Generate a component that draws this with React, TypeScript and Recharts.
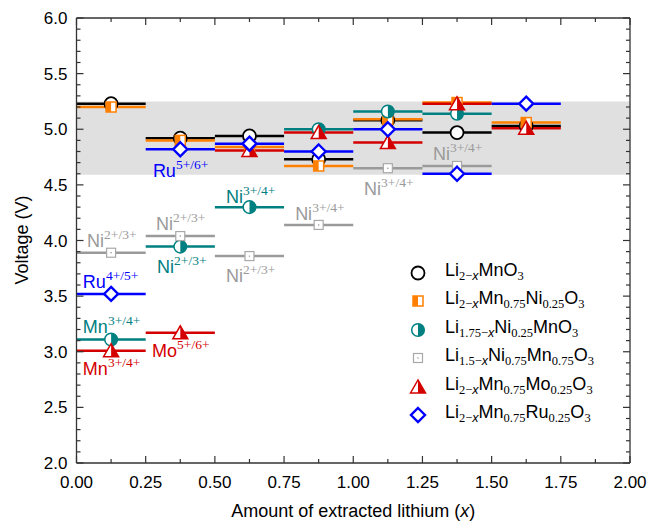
import React from 'react'
import { ComposedChart, Line, Scatter, XAxis, YAxis, ReferenceArea, ReferenceLine } from 'recharts'

// axis ticks (labelled ones + minor ones in between)
const X_TICKS = [0, 0.25, 0.5, 0.75, 1, 1.25, 1.5, 1.75, 2]
const X_MINOR = [0.125, 0.375, 0.625, 0.875, 1.125, 1.375, 1.625, 1.875]
const Y_TICKS = [2, 2.5, 3, 3.5, 4, 4.5, 5, 5.5, 6]
const Y_MINOR = Array.from({ length: 39 }, (_, i) => +(2.1 + i * 0.1).toFixed(1)).filter(
  (v) => !Y_TICKS.includes(v)
)

// each plateau spans 0.25 Li
const SEG_START = [0, 0.25, 0.5, 0.75, 1, 1.25, 1.5]
const SEG_WIDTH = 0.25

// plateau voltages (V)
const LI2MNO3 = [5.23, 4.92, 4.94, 4.73, 5.08, 4.97, 5.03]
const LI2MNNI = [5.2, 4.9, 4.84, 4.67, 5.09, 5.24, 5.06]
const LI175NI = [3.11, 3.945, 4.3, 5.0, 5.16, 5.14]
const LI15NIMN = [3.89, 4.04, 3.86, 4.14, 4.65, 4.67]
const LI2MNMO = [3.01, 3.17, 4.81, 4.97, 4.88, 5.23, 5.01]
const LI2MNRU = [3.52, 4.82, 4.87, 4.8, 5.0, 4.6, 5.23]

const BAND = [4.59, 5.25]

// redox annotations: [base, superscript, x, V, colour key]
const LABELS: [string, string, number, number, string][] = [
  ['Ru', '5+/6+', 0.276, 4.571, 'blue'],
  ['Ni', '3+/4+', 1.288, 4.724, 'gray'],
  ['Ni', '3+/4+', 1.039, 4.409, 'gray'],
  ['Ni', '2+/3+', 0.038, 3.942, 'gray'],
  ['Ni', '2+/3+', 0.287, 4.094, 'gray'],
  ['Ni', '2+/3+', 0.291, 3.708, 'teal'],
  ['Ni', '3+/4+', 0.54, 4.337, 'teal'],
  ['Ni', '2+/3+', 0.54, 3.627, 'gray'],
  ['Ni', '3+/4+', 0.79, 4.184, 'gray'],
  ['Ru', '4+/5+', 0.023, 3.573, 'blue'],
  ['Mn', '3+/4+', 0.023, 3.169, 'teal'],
  ['Mn', '3+/4+', 0.023, 2.791, 'red'],
  ['Mo', '5+/6+', 0.273, 2.953, 'red'],
]

const C = {
  black: '#000000',
  orange: '#ff8000',
  teal: '#008080',
  gray: '#9a9a9a',
  red: '#d40000',
  blue: '#0000ff',
}

const SANS = '"Liberation Sans", Arial, sans-serif'
const SERIF = '"Liberation Serif", "Times New Roman", serif'
const AXIS = '#333'

// plot frame, from the chart margins / axis sizes below
const W = 649
const H = 525
const M_TOP = 18
const M_RIGHT = 19
const Y_AXIS_W = 76.5
const X_AXIS_H = 62
const PLOT_TOP = M_TOP
const PLOT_BOTTOM = H - X_AXIS_H
const PLOT_LEFT = Y_AXIS_W
const PLOT_RIGHT = W - M_RIGHT

type P = { cx: number; cy: number }

const CircleMark = ({ cx, cy }: P) => (
  <circle cx={cx} cy={cy} r={6.5} fill="#fff" stroke={C.black} strokeWidth={1.8} />
)
const HalfSquareMark = ({ cx, cy }: P) => (
  <g>
    <rect x={cx - 5} y={cy - 5} width={10} height={10} fill="#fff" stroke={C.orange} strokeWidth={1.5} />
    <rect x={cx - 5} y={cy - 5} width={5} height={10} fill={C.orange} />
  </g>
)
const HalfCircleMark = ({ cx, cy }: P) => (
  <g>
    <circle cx={cx} cy={cy} r={6.3} fill="#fff" stroke={C.teal} strokeWidth={1.5} />
    <path d={`M${cx},${cy - 6.3} A6.3,6.3 0 0 1 ${cx},${cy + 6.3} Z`} fill={C.teal} />
  </g>
)
const SmallSquareMark = ({ cx, cy }: P) => (
  <g>
    <rect x={cx - 4.5} y={cy - 4.5} width={9} height={9} fill="#fff" stroke="#a8a8a8" strokeWidth={1.2} />
    <circle cx={cx} cy={cy} r={0.7} fill="#888" />
  </g>
)
const HalfTriangleMark = ({ cx, cy }: P) => (
  <g>
    <polygon
      points={`${cx - 7.5},${cy + 6} ${cx},${cy - 7} ${cx + 7.5},${cy + 6}`}
      fill="#fff"
      stroke={C.red}
      strokeWidth={1.5}
    />
    <polygon points={`${cx},${cy - 7} ${cx + 7.5},${cy + 6} ${cx},${cy + 6}`} fill={C.red} />
  </g>
)
const DiamondMark = ({ cx, cy }: P) => (
  <polygon
    points={`${cx},${cy - 7} ${cx + 7},${cy} ${cx},${cy + 7} ${cx - 7},${cy}`}
    fill="#fff"
    stroke={C.blue}
    strokeWidth={2.4}
  />
)

const SERIES = [
  { name: [['Li', '2−x'], ['MnO', '3']], values: LI2MNO3, color: C.black, Mark: CircleMark },
  { name: [['Li', '2−x'], ['Mn', '0.75'], ['Ni', '0.25'], ['O', '3']], values: LI2MNNI, color: C.orange, Mark: HalfSquareMark },
  { name: [['Li', '1.75−x'], ['Ni', '0.25'], ['MnO', '3']], values: LI175NI, color: C.teal, Mark: HalfCircleMark },
  { name: [['Li', '1.5−x'], ['Ni', '0.75'], ['Mn', '0.75'], ['O', '3']], values: LI15NIMN, color: C.gray, Mark: SmallSquareMark },
  { name: [['Li', '2−x'], ['Mn', '0.75'], ['Mo', '0.25'], ['O', '3']], values: LI2MNMO, color: C.red, Mark: HalfTriangleMark },
  { name: [['Li', '2−x'], ['Mn', '0.75'], ['Ru', '0.25'], ['O', '3']], values: LI2MNRU, color: C.blue, Mark: DiamondMark },
]

function segments(values: number[]) {
  const out: { x: number; v: number | null }[] = []
  values.forEach((v, i) => {
    out.push({ x: SEG_START[i], v })
    out.push({ x: SEG_START[i] + SEG_WIDTH, v })
    out.push({ x: SEG_START[i] + SEG_WIDTH, v: null })
  })
  return out
}

function midpoints(values: number[]) {
  return values.map((v, i) => ({ x: SEG_START[i] + SEG_WIDTH / 2, v }))
}

const labelData = LABELS.map(([base, sup, x, v, col]) => ({ x, v, base, sup, col }))

function LabelShape(props: any) {
  const { cx, cy, payload } = props
  const fill = (C as any)[payload.col]
  return (
    <text x={cx} y={cy} fill={fill} fontFamily={SANS} fontSize={18}>
      {payload.base}
      <tspan dy={-8} fontSize={13.5} fontFamily={SERIF}>
        {payload.sup}
      </tspan>
    </text>
  )
}

// x ticks: label + inward tick marks on bottom and top edges
function XTick(props: any) {
  const { x, y, payload } = props
  const major = X_TICKS.includes(payload.value)
  const len = major ? 7 : 4
  return (
    <g>
      <line x1={x} x2={x} y1={PLOT_BOTTOM} y2={PLOT_BOTTOM - len} stroke={AXIS} strokeWidth={1.2} />
      <line x1={x} x2={x} y1={PLOT_TOP} y2={PLOT_TOP + len} stroke={AXIS} strokeWidth={1.2} />
      {major && (
        <text x={x} y={y} dy="0.71em" textAnchor="middle" fontSize={17} fill="#000" fontFamily={SANS}>
          {payload.value.toFixed(2)}
        </text>
      )}
    </g>
  )
}

// y ticks: label + inward tick marks on left and right edges
function YTick(props: any) {
  const { x, y, payload } = props
  const major = Y_TICKS.includes(payload.value)
  const len = major ? 7 : 4
  return (
    <g>
      <line x1={PLOT_LEFT} x2={PLOT_LEFT + len} y1={y} y2={y} stroke={AXIS} strokeWidth={1.2} />
      <line x1={PLOT_RIGHT} x2={PLOT_RIGHT - len} y1={y} y2={y} stroke={AXIS} strokeWidth={1.2} />
      {major && (
        <text x={x} y={y} dy="0.36em" textAnchor="end" fontSize={17} fill="#000" fontFamily={SANS}>
          {payload.value.toFixed(1)}
        </text>
      )}
    </g>
  )
}

function Sub({ s }: { s: string }) {
  const parts = s.split('x')
  return (
    <span style={{ fontSize: 12.5, fontFamily: SERIF, verticalAlign: '-4px' }}>
      {parts[0]}
      {parts.length > 1 && <i style={{ fontFamily: SANS }}>x</i>}
    </span>
  )
}

const X_ALL = [...X_TICKS, ...X_MINOR].sort((a, b) => a - b)
const Y_ALL = [...Y_TICKS, ...Y_MINOR].sort((a, b) => a - b)

export default function App() {
  return (
    <div style={{ position: 'absolute', left: 0, top: 0, width: W, height: H, background: '#fff' }}>
      <ComposedChart width={W} height={H} margin={{ top: M_TOP, right: M_RIGHT, bottom: 0, left: 0 }}>
        <ReferenceArea xAxisId="b" yAxisId="l" y1={BAND[0]} y2={BAND[1]} fill="#e0e0e0" fillOpacity={1} stroke="none" />

        <XAxis
          xAxisId="b"
          dataKey="x"
          type="number"
          domain={[0, 2]}
          allowDataOverflow
          ticks={X_ALL}
          interval={0}
          height={X_AXIS_H}
          tickLine={false}
          tickSize={0}
          tickMargin={13}
          stroke={AXIS}
          strokeWidth={1.3}
          tick={<XTick />}
        />
        <YAxis
          yAxisId="l"
          dataKey="v"
          type="number"
          domain={[2, 6]}
          allowDataOverflow
          ticks={Y_ALL}
          interval={0}
          width={Y_AXIS_W}
          tickLine={false}
          tickSize={0}
          tickMargin={9}
          stroke={AXIS}
          strokeWidth={1.3}
          tick={<YTick />}
        />
        <ReferenceLine xAxisId="b" yAxisId="l" y={6} stroke={AXIS} strokeWidth={1.3} />
        <ReferenceLine xAxisId="b" yAxisId="l" x={2} stroke={AXIS} strokeWidth={1.3} />

        {SERIES.map((s, i) => (
          <Line
            key={`line-${i}`}
            xAxisId="b"
            yAxisId="l"
            data={segments(s.values)}
            dataKey="v"
            type="linear"
            stroke={s.color}
            strokeWidth={2.5}
            dot={false}
            activeDot={false}
            connectNulls={false}
            isAnimationActive={false}
          />
        ))}
        {SERIES.map((s, i) => (
          <Scatter
            key={`pts-${i}`}
            xAxisId="b"
            yAxisId="l"
            data={midpoints(s.values)}
            dataKey="v"
            shape={(p: any) => <s.Mark cx={p.cx} cy={p.cy} />}
            isAnimationActive={false}
          />
        ))}
        <Scatter xAxisId="b" yAxisId="l" data={labelData} dataKey="v" shape={LabelShape} isAnimationActive={false} />
      </ComposedChart>

      {/* axis titles */}
      <div
        style={{
          position: 'absolute',
          left: PLOT_LEFT,
          width: PLOT_RIGHT - PLOT_LEFT,
          top: 500,
          lineHeight: '22px',
          textAlign: 'center',
          fontFamily: SANS,
          fontSize: 18,
          color: '#000',
        }}
      >
        Amount of extracted lithium (<i>x</i>)
      </div>
      <div
        style={{
          position: 'absolute',
          left: 22 - 100,
          width: 200,
          top: 240 - 11,
          lineHeight: '22px',
          textAlign: 'center',
          fontFamily: SANS,
          fontSize: 18,
          color: '#000',
          transform: 'rotate(-90deg)',
        }}
      >
        Voltage (V)
      </div>

      {/* legend */}
      {SERIES.map((s, i) => (
        <div
          key={`leg-${i}`}
          style={{ position: 'absolute', left: 406, top: 273 - 12 + i * 28.4, height: 24, display: 'flex', alignItems: 'center' }}
        >
          <svg width={24} height={24} style={{ display: 'block' }}>
            <s.Mark cx={12} cy={12} />
          </svg>
          <span style={{ marginLeft: 15, fontFamily: SANS, fontSize: 18, color: '#000', whiteSpace: 'nowrap', lineHeight: '24px' }}>
            {s.name.map(([t, sub], j) => (
              <React.Fragment key={j}>
                {t}
                <Sub s={sub} />
              </React.Fragment>
            ))}
          </span>
        </div>
      ))}
    </div>
  )
}
